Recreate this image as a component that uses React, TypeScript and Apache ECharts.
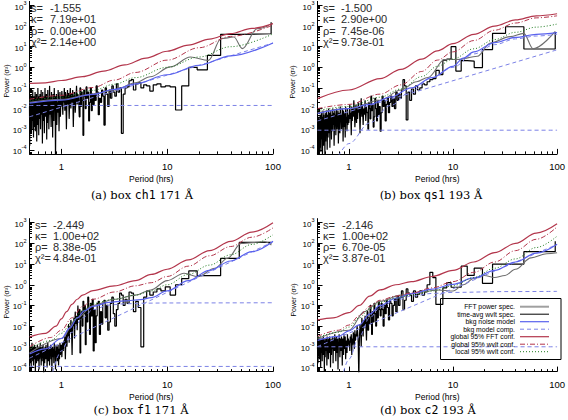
import React, { useEffect, useRef } from 'react';
import * as echarts from 'echarts';

const SANS = '"Liberation Sans", Arial, Helvetica, sans-serif';
const SERIF = '"DejaVu Serif", "Liberation Serif", serif';
const MONO = '"DejaVu Sans Mono", "Liberation Mono", monospace';

// axes (periods in hours, power as log10 of sigma^2)
const P_MIN = 0.5;
const P_MAX = 100;
const LOGPOW_MIN = -4.2;
const LOGPOW_MAX = 3.2;
const xTickPeriods = [1, 10, 100];
const xMinorPeriods = [0.6, 0.7, 0.8, 0.9, 2, 3, 4, 5, 6, 7, 8, 9, 20, 30, 40, 50, 60, 70, 80, 90];
const yTickExps = [-4, -3, -2, -1, 0, 1, 2, 3];
const yMinorMultipliers = [2, 3, 4, 5, 6, 7, 8, 9];
const FFT_BASE_PERIOD = 96; // FFT bin k has period 96/k hours

// ---------- FFT spectra: log10 power for k = 1,2,3,... ----------
const specA = [
  2.19, 1.63, 1.6, 0.58, -0.12, 0.0, -0.9, -2.07, -0.95, -0.9,
  -0.95, -0.8, -0.85, -1.15, -0.9, -0.85, -1.0, -0.75, -0.8, -1.1,
  -0.6, -0.65, -0.95, -1.0, -1.3, -3.2, -1.0, -1.2, -0.8, -1.4,
  -1.2, -0.9, -1.5, -1.1, -1.9, -1.3, -1.0, -2.8, -1.4, -1.1,
  -1.7, -1.5, -2.3, -1.2, -0.9, -1.6, -1.3, -1.8,
  -1.3, -2.1, -1.0, -1.7, -2.6, -1.2, -1.5, -0.95, -2.0, -1.4,
  -1.1, -3.3, -1.6, -1.2, -1.9, -1.0, -2.4, -1.5, -1.3, -1.8,
  -0.9, -1.6, -2.2, -1.2, -1.45, -2.9, -1.1, -1.7, -1.3, -2.0,
  -1.0, -1.5, -2.5, -1.25, -1.8, -1.1, -1.6, -3.0, -1.4, -1.2,
  -2.1, -1.0, -1.7, -1.35, -2.3, -1.5, -1.15, -1.9,
  -1.6, -2.4, -1.2, -1.9, -3.1, -1.5, -1.1, -2.2, -1.7, -2.8,
  -1.3, -1.9, -4.5, -1.4, -2.0, -1.0, -2.6, -1.8, -1.3, -3.4,
  -1.6, -2.1, -1.2, -2.9, -1.7, -1.4, -2.3, -0.9, -1.8, -3.0,
  -1.5, -2.2, -1.1, -2.7, -1.6, -3.5, -1.3, -2.0, -1.5, -2.4,
  -1.0, -1.9, -3.2, -1.4, -2.1, -1.7, -2.6, -1.2, -3.7, -1.8,
  -1.5, -2.3, -1.1, -2.0, -3.0, -1.6, -1.3, -2.5, -1.9, -1.4,
  -3.3, -1.7, -2.2, -1.0, -2.8, -1.5, -2.0, -3.6, -1.3, -1.8,
  -2.4, -1.6, -3.1, -1.2, -2.1, -1.7, -2.9, -1.4, -1.9, -3.4,
  -1.5, -2.2, -1.1, -2.6, -1.8, -3.0, -1.4, -2.3, -1.6, -3.2,
  -1.3, -2.0, -2.7, -1.5, -3.8, -1.9,
];
const specB = [
  1.73, 0.89, 1.97, 1.65, 0.86, -0.01, 0.3, 0.33, -0.18, 1.0,
  0.4, 0.35, -0.35, -0.15, -0.55, -0.6, -0.7, -0.85, -0.8, -1.0,
  -1.1, -0.9, -1.3, -1.05, -1.6, -1.2, -2.55, -0.9, -0.6, -1.1,
  -1.5, -1.3, -1.6, -1.2, -2.0, -1.5, -1.9, -1.4, -1.7, -2.2,
  -1.5, -1.8, -2.6, -1.6, -1.9, -1.4, -2.2, -3.1,
  -1.9, -2.3, -1.6, -2.6, -2.0, -1.5, -2.4, -2.9, -1.8, -2.1,
  -1.4, -2.5, -2.0, -1.7, -3.0, -2.2, -1.9, -2.6, -1.6, -2.3,
  -2.0, -2.8, -1.8, -2.4, -1.5, -2.1, -3.2, -1.9, -2.2, -1.7,
  -2.5, -2.0, -2.7, -1.8, -2.3, -2.9, -2.1, -1.6, -2.4, -2.0,
  -2.6, -1.9, -3.3, -2.2, -2.5, -1.8, -2.3, -2.7,
  -2.3, -2.8, -2.0, -3.1, -2.4, -2.7, -1.9, -3.4, -2.5, -2.2,
  -2.9, -2.1, -3.6, -2.4, -2.0, -2.7, -3.0, -2.3, -2.6, -1.9,
  -3.2, -2.5, -2.2, -2.8, -3.7, -2.1, -2.6, -2.4, -3.0, -2.0,
  -2.7, -3.3, -2.3, -2.5, -2.1, -2.9, -3.8, -2.4, -2.2, -2.8,
  -2.0, -3.1, -2.6, -2.3, -3.5, -2.5, -2.1, -2.9, -2.4, -3.9,
  -2.2, -2.7, -3.2, -2.0, -2.6, -3.4, -2.3, -2.9, -4.0, -2.5,
  -2.1, -3.0, -2.7, -3.6, -2.4, -2.2, -4.2, -2.8, -2.5, -3.3,
  -2.3, -3.8, -2.6, -2.1, -3.1, -4.3, -2.4, -2.9, -3.5, -2.2,
  -2.7, -4.1, -2.5, -3.2, -2.3, -3.9, -2.8, -4.3, -2.6, -3.4,
  -2.4, -4.2, -3.0, -2.5, -3.7, -4.3,
];
const specC = [
  2.0, 2.05, 1.28, 0.44, 0.44, 0.67, 0.3, 0.0, -0.5, -0.1,
  -0.3, -0.2, -0.35, -0.5, -0.3, -0.6, -3.0, -1.1, -0.8, -1.3,
  -0.4, -0.35, -0.9, -0.7, -1.0, -0.5, -0.4, -0.9, -1.2, -2.0,
  -1.4, -0.6, -0.9, -1.8, -2.2, -1.0, -1.6, -0.75, -0.9, -1.9,
  -1.3, -2.4, -0.8, -0.9, -1.5, -2.8, -1.2, -3.2,
  -0.7, -1.5, -0.9, -2.4, -1.1, -0.6, -1.8, -1.2, -2.9, -1.0,
  -1.4, -0.8, -2.0, -1.3, -1.6, -3.3, -1.2, -1.7, -1.0, -2.2,
  -1.5, -1.9, -1.3, -2.6, -1.6, -2.0, -1.8, -3.4, -2.1, -1.7,
  -2.3, -2.0, -2.8, -1.9, -2.5, -2.2, -3.0, -2.4, -2.6, -3.6,
  -2.5, -2.9, -2.7, -3.2, -2.8, -3.0, -3.5, -2.9,
  -3.0, -3.4, -2.8, -3.6, -3.1, -3.9, -2.9, -3.3, -3.7, -3.0,
  -3.5, -2.9, -4.1, -3.2, -3.4, -2.8, -3.8, -3.1, -3.5, -3.0,
  -3.3, -4.2, -3.0, -3.6, -2.9, -3.4, -3.1, -3.9, -3.2, -3.0,
  -3.7, -3.3, -2.8, -3.5, -4.0, -3.1, -3.4, -2.9, -3.6, -3.2,
  -3.0, -3.8, -3.3, -3.1, -4.3, -3.4, -2.9, -3.5, -3.2, -3.7,
  -3.0, -3.3, -3.9, -3.1, -3.5, -2.8, -3.4, -3.6, -3.0, -4.1,
  -3.2, -3.4, -3.0, -3.7, -3.3, -2.9, -3.5, -3.1, -3.8, -3.2,
  -3.4, -3.0, -4.2, -3.3, -3.6, -3.1, -2.9, -3.5, -3.2, -3.9,
  -3.0, -3.4, -3.7, -3.1, -3.3, -2.8, -3.6, -3.2, -4.0, -3.4,
  -3.1, -3.5, -3.0, -3.8, -3.3, -3.4,
];
const specD = [
  2.1, 1.6, 1.0, 1.0, 0.07, 0.8, 0.45, 0.9, -0.12, -0.12,
  0.1, -0.15, -0.95, -0.95, 0.35, 0.6, 0.0, -0.35, -0.5, -0.3,
  -0.45, -0.6, -0.3, -0.8, -0.5, -0.4, -0.2, -0.75, -1.2, -0.3,
  -0.6, -1.0, -0.55, -1.3, -0.7, -1.0, -1.5, -0.9, -0.8, -1.7,
  -1.1, -0.75, -1.4, -1.0, -2.0, -1.2, -0.9, -1.5,
  -1.2, -0.8, -1.6, -1.1, -2.0, -1.4, -0.9, -1.8, -1.3, -2.4,
  -1.5, -1.0, -1.9, -1.6, -2.2, -1.3, -2.7, -1.8, -1.5, -2.1,
  -1.7, -2.5, -2.0, -1.6, -3.0, -2.2, -1.9, -2.6, -4.6, -2.8,
  -2.3, -2.0, -2.5, -2.4, -2.7, -2.2, -3.1, -2.5, -2.3, -2.9,
  -2.6, -3.4, -2.4, -2.8, -2.5, -3.2, -2.7, -2.9,
  -2.6, -3.0, -2.4, -3.3, -2.7, -2.9, -3.6, -2.5, -2.8, -3.1,
  -2.4, -3.4, -2.7, -2.6, -3.9, -2.8, -2.5, -3.2, -2.9, -2.6,
  -3.5, -2.7, -2.4, -3.0, -2.8, -4.1, -2.6, -2.9, -3.3, -2.5,
  -2.8, -3.7, -2.6, -2.9, -2.4, -3.2, -2.7, -3.0, -2.6, -3.8,
  -2.5, -2.9, -3.1, -2.7, -3.4, -2.6, -2.8, -4.0, -2.7, -3.0,
  -2.5, -3.3, -2.8, -2.6, -3.6, -2.9, -2.7, -3.1, -2.5, -3.9,
  -2.8, -2.6, -3.2, -2.9, -2.7, -3.5, -2.6, -3.0, -4.2, -2.8,
  -2.7, -3.1, -2.5, -3.4, -2.9, -2.6, -3.7, -2.8, -3.0, -2.6,
  -3.3, -2.7, -4.0, -2.9, -2.6, -3.2, -2.8, -3.6, -2.7, -3.0,
  -2.5, -3.4, -2.9, -3.8, -2.7, -3.1,
];

// ---------- curves: [log10 period (hr), log10 power] ----------
const grayA = [[-0.3, -1.7], [0, -1.55], [0.3, -1.3], [0.5, -1.1], [0.7, -0.75], [0.84, -0.46], [1.03, 0.02], [1.22, 0.5], [1.39, 0.34], [1.51, 1.39], [1.63, 1.47], [1.71, 0.91], [1.85, 1.87], [1.96, 2.03]];
const blueA = [[-0.3, -1.74], [0, -1.59], [0.3, -1.31], [0.5, -1.07], [0.7, -0.8], [1, -0.36], [1.3, 0.1], [1.6, 0.56], [2, 1.18]];
const whiteA = [[-0.301, -1.85], [2, -1.85]];
const powA = [[-0.301, -2.4], [2, 1.18]];
const greenA = [[-0.3, -1.62], [0, -1.45], [0.3, -1.12], [0.5, -0.82], [0.7, -0.5], [1, 0.0], [1.3, 0.5], [1.6, 1.0], [2, 1.62]];
const redDashA = [[-0.3, -1.55], [0, -1.36], [0.3, -0.98], [0.5, -0.62], [0.7, -0.25], [1, 0.35], [1.3, 0.95], [1.6, 1.5], [2, 2.05]];
const redA = [[-0.3, -0.78], [-0.15, -0.75], [0, -0.64], [0.2, -0.45], [0.4, -0.18], [0.6, 0.12], [0.8, 0.45], [1, 0.78], [1.2, 1.08], [1.4, 1.37], [1.6, 1.64], [1.8, 1.89], [2, 2.12]];

const grayB = [[-0.3, -2.2], [0, -2.0], [0.3, -1.6], [0.5, -1.1], [0.65, -0.7], [0.76, -0.49], [0.92, 0.38], [1.045, 0.38], [1.235, 0.54], [1.36, 1.18], [1.55, 1.49], [1.68, 1.65], [1.77, 0.9], [1.98, 1.73]];
const blueB = [[-0.3, -2.24], [0, -2.0], [0.2, -1.8], [0.4, -1.45], [0.6, -1.0], [0.8, -0.5], [1, 0.05], [1.1, 0.45], [1.2, 0.75], [1.4, 1.2], [1.6, 1.45], [1.8, 1.6], [2, 1.68]];
const whiteB = [[-0.301, -3.05], [2, -3.05]];
const powB = [[-0.301, -2.6], [2, 0.85]];
const kappaB = [[-0.1, -4.3], [0, -3.7], [0.2, -2.7], [0.4, -1.85], [0.6, -1.15], [0.8, -0.5], [1, 0.0], [1.2, 0.65], [1.4, 1.1], [1.6, 1.38], [1.8, 1.52], [2, 1.6]];
const greenB = [[-0.3, -2.1], [0, -1.9], [0.3, -1.45], [0.5, -1.05], [0.7, -0.45], [0.85, 0.05], [1, 0.4], [1.2, 0.9], [1.4, 1.35], [1.6, 1.7], [1.8, 1.95], [2, 2.1]];
const redDashB = [[-0.3, -2.0], [0, -1.8], [0.3, -1.3], [0.5, -0.85], [0.7, -0.2], [0.85, 0.35], [1, 0.75], [1.2, 1.3], [1.4, 1.8], [1.6, 2.15], [1.8, 2.4], [2, 2.5]];
const redB = [[-0.3, -1.52], [0, -1.1], [0.3, -0.55], [0.5, -0.1], [0.7, 0.4], [0.85, 0.8], [1, 1.15], [1.2, 1.6], [1.4, 2.0], [1.6, 2.3], [1.8, 2.5], [2, 2.6]];

const grayC = [[-0.3, -3.3], [0, -2.6], [0.15, -1.6], [0.3, -1.0], [0.5, -0.7], [0.7, -0.5], [0.845, -0.25], [1.0, 0.2], [1.16, 0.56], [1.29, 0.39], [1.45, 0.8], [1.57, 1.28], [1.7, 2.0], [1.92, 2.08], [1.985, 1.92]];
const blueC = [[-0.3, -3.35], [-0.15, -3.1], [0, -2.6], [0.08, -2.1], [0.15, -1.6], [0.22, -1.25], [0.3, -1.05], [0.45, -0.85], [0.6, -0.78], [0.75, -0.72], [0.85, -0.62], [1, -0.3], [1.2, 0.2], [1.4, 0.7], [1.6, 1.15], [1.8, 1.6], [2, 2.1]];
const whiteC = [[-0.301, -3.95], [2, -3.95]];
const powC = [[-0.301, -3.55], [2, 2.08]];
const kappaC = [[-0.08, -4.2], [0, -3.2], [0.1, -2.3], [0.2, -1.6], [0.3, -1.2], [0.45, -0.98], [0.6, -0.92], [0.8, -0.89], [1, -0.88], [2, -0.87]];
const greenC = [[-0.3, -3.1], [-0.1, -2.7], [0, -2.35], [0.1, -1.8], [0.2, -1.25], [0.3, -0.9], [0.5, -0.7], [0.7, -0.5], [0.85, -0.3], [1, 0.0], [1.2, 0.5], [1.4, 0.95], [1.6, 1.45], [1.8, 1.95], [2, 2.42]];
const redDashC = [[-0.3, -3.0], [-0.1, -2.55], [0, -2.2], [0.1, -1.6], [0.2, -1.05], [0.3, -0.7], [0.5, -0.35], [0.7, -0.05], [0.85, 0.1], [1, 0.4], [1.2, 0.9], [1.4, 1.4], [1.6, 1.85], [1.8, 2.3], [2, 2.75]];
const redC = [[-0.3, -2.52], [-0.15, -2.35], [-0.05, -2.0], [0, -1.65], [0.05, -1.3], [0.1, -0.95], [0.15, -0.7], [0.2, -0.5], [0.3, -0.28], [0.5, -0.05], [0.7, 0.2], [0.85, 0.5], [1, 0.75], [1.2, 1.2], [1.4, 1.65], [1.6, 2.1], [1.8, 2.55], [2, 3.0]];

const grayD = [[-0.3, -2.6], [0, -2.2], [0.15, -1.3], [0.3, -0.8], [0.5, -0.5], [0.7, -0.35], [0.85, -0.25], [1.0, -0.3], [1.1, 0.0], [1.2, 0.3], [1.3, 0.45], [1.4, 0.35], [1.5, 0.45], [1.6, 0.75], [1.75, 1.3], [1.9, 1.5], [2, 1.55]];
const blueD = [[-0.3, -2.69], [-0.1, -2.5], [0, -2.23], [0.1, -1.94], [0.2, -1.42], [0.3, -1.0], [0.45, -0.66], [0.6, -0.43], [0.8, -0.21], [1, 0.02], [1.2, 0.33], [1.4, 0.7], [1.6, 1.1], [1.8, 1.53], [2, 1.96]];
const whiteD = [[-0.301, -3.0], [2, -3.0]];
const powD = [[-0.301, -2.99], [2, 1.95]];
const kappaD = [[-0.05, -4.2], [0, -3.6], [0.1, -2.5], [0.2, -1.6], [0.3, -1.1], [0.45, -0.75], [0.6, -0.55], [0.8, -0.42], [1, -0.37], [1.5, -0.33], [2, -0.32]];
const greenD = [[-0.3, -2.55], [-0.1, -2.3], [0, -2.05], [0.1, -1.6], [0.2, -1.15], [0.3, -0.85], [0.45, -0.65], [0.6, -0.5], [0.8, -0.3], [1, -0.05], [1.2, 0.35], [1.4, 0.8], [1.6, 1.25], [1.8, 1.8], [2, 2.35]];
const redDashD = [[-0.3, -2.5], [-0.1, -2.2], [0, -1.95], [0.1, -1.5], [0.2, -1.05], [0.3, -0.75], [0.45, -0.55], [0.6, -0.4], [0.8, -0.15], [1, 0.15], [1.2, 0.6], [1.4, 1.1], [1.6, 1.65], [1.8, 2.2], [2, 2.8]];
const redD = [[-0.3, -1.7], [-0.15, -1.6], [0, -1.35], [0.1, -1.0], [0.2, -0.55], [0.3, -0.25], [0.45, 0.0], [0.6, 0.15], [0.8, 0.4], [1, 0.7], [1.2, 1.1], [1.4, 1.55], [1.6, 2.0], [1.8, 2.5], [2, 2.95]];

// ---------- texts ----------
const annLabels = ['s=', 'κ=', 'ρ=', 'χ²='];
const annA = ['-1.555', '7.19e+01', '0.00e+00', '2.14e+00'];
const annB = ['-1.500', '2.90e+00', '7.45e-06', '9.73e-01'];
const annC = ['-2.449', '1.00e+02', '8.38e-05', '4.84e-01'];
const annD = ['-2.146', '1.00e+02', '6.70e-05', '3.87e-01'];
const captionA = ['(a)', 'ch1', '171'];
const captionB = ['(b)', 'qs1', '193'];
const captionC = ['(c)', 'f1', '171'];
const captionD = ['(d)', 'c2', '193'];
const legendLabels = ['FFT power spec.', 'time-avg wvlt spec.', 'bkg noise model', 'bkg model comp.', 'global 95% FFT conf.', 'global 95% wvlt conf.', 'local 95% wvlt conf.'];

const RED = '#b3364c';
const BLUE = '#5a62ee';
const BLUE_DASH = '#7c82e6';
const GREEN = '#1d7a1d';
const GRAY = '#6e6e6e';

const legendStyles = [
  { stroke: '#a0a0a0', lineWidth: 2 },
  { stroke: '#000', lineWidth: 1 },
  { stroke: BLUE, lineWidth: 1.2 },
  { stroke: BLUE_DASH, lineWidth: 1, lineDash: [4, 3] },
  { stroke: RED, lineWidth: 1.2 },
  { stroke: RED, lineWidth: 1, lineDash: [5, 2, 1, 2] },
  { stroke: GREEN, lineWidth: 1, lineDash: [1, 2] },
];

const panels = [
  { left: 29.5, top: 0.9, spec: specA, gray: grayA, blue: blueA, comps: [whiteA, powA], green: greenA, redDash: redDashA, red: redA, ann: annA, annX: [31, 50], annY: 8.3, cap: captionA, capX: 142, capY: 195, titleX: 6, titleY: 81 },
  { left: 317.5, top: 0.9, spec: specB, gray: grayB, blue: blueB, comps: [whiteB, powB, kappaB], green: greenB, redDash: redDashB, red: redB, ann: annB, annX: [323, 341], annY: 8.3, cap: captionB, capX: 431, capY: 195, titleX: 292, titleY: 82 },
  { left: 29.5, top: 218.6, spec: specC, gray: grayC, blue: blueC, comps: [whiteC, powC, kappaC], green: greenC, redDash: redDashC, red: redC, ann: annC, annX: [35, 53], annY: 225, cap: captionC, capX: 141, capY: 410, titleX: 6, titleY: 302 },
  { left: 317.5, top: 218.6, spec: specD, gray: grayD, blue: blueD, comps: [whiteD, powD, kappaD], green: greenD, redDash: redDashD, red: redD, ann: annD, annX: [323, 342], annY: 225, cap: captionD, capX: 428, capY: 410, titleX: 293, titleY: 300 },
];

const GRID_W = 243.5;
const GRID_H = 153;

function buildOption() {
  const lg = Math.log10;
  const xMin = lg(P_MIN);
  const xMax = lg(P_MAX);
  const xMajor = xTickPeriods.map(lg);
  const xMinor = xMinorPeriods.map(lg);
  const yMinor: number[] = [];
  for (let e = -5; e <= 3; e++) {
    yMinorMultipliers.forEach((m) => {
      const v = e + lg(m);
      if (v > LOGPOW_MIN && v < LOGPOW_MAX) yMinor.push(v);
    });
  }

  const grid: any[] = [];
  const xAxis: any[] = [];
  const yAxis: any[] = [];
  const series: any[] = [];
  const graphic: any[] = [];

  panels.forEach((p, i) => {
    grid.push({ left: p.left, top: p.top, width: GRID_W, height: GRID_H, containLabel: false });
    xAxis.push({
      gridIndex: i, type: 'value', position: 'bottom', min: xMin, max: xMax,
      axisLine: { onZero: false, lineStyle: { color: '#000', width: 1 } },
      axisTick: { inside: true, length: 5, customValues: xMajor, lineStyle: { color: '#000' } },
      axisLabel: { customValues: xMajor, formatter: (v: number) => String(Math.round(Math.pow(10, v))), fontSize: 9.5, color: '#000', fontFamily: SANS, margin: 8 },
      splitLine: { show: false },
      name: 'Period (hrs)', nameLocation: 'middle', nameGap: 21,
      nameTextStyle: { fontSize: 8.5, color: '#000', fontFamily: SANS },
    });
    xAxis.push({
      gridIndex: i, type: 'value', position: 'bottom', min: xMin, max: xMax,
      axisLine: { show: false, onZero: false },
      axisTick: { inside: true, length: 2.5, customValues: xMinor, lineStyle: { color: '#000' } },
      axisLabel: { show: false }, splitLine: { show: false },
    });
    yAxis.push({
      gridIndex: i, type: 'value', position: 'left', min: LOGPOW_MIN, max: LOGPOW_MAX,
      axisLine: { onZero: false, lineStyle: { color: '#000', width: 1 } },
      axisTick: { inside: true, length: 5, customValues: yTickExps, lineStyle: { color: '#000' } },
      axisLabel: {
        customValues: yTickExps, margin: 3, color: '#000', fontFamily: SANS,
        formatter: (v: number) => `{b|10}{s|${Math.round(v)}}`,
        rich: {
          b: { fontSize: 8, fontFamily: SANS, color: '#000', lineHeight: 11, verticalAlign: 'bottom' },
          s: { fontSize: 5.5, fontFamily: SANS, color: '#000', lineHeight: 6, verticalAlign: 'top' },
        },
      },
      splitLine: { show: false },
    });
    yAxis.push({
      gridIndex: i, type: 'value', position: 'left', min: LOGPOW_MIN, max: LOGPOW_MAX,
      axisLine: { show: false, onZero: false },
      axisTick: { inside: true, length: 2.5, customValues: yMinor, lineStyle: { color: '#000' } },
      axisLabel: { show: false }, splitLine: { show: false },
    });
    const xi = 2 * i;
    const yi = 2 * i;
    const specData = p.spec.map((v, k) => [lg(FFT_BASE_PERIOD / (k + 1)), v]).reverse();
    const base = { type: 'line', xAxisIndex: xi, yAxisIndex: yi, symbol: 'none', silent: true, clip: true };
    series.push({ ...base, name: 'FFT power spec.', data: specData, step: 'end', lineStyle: { color: '#000', width: 1.2 }, z: 2 });
    series.push({ ...base, name: 'time-avg wvlt spec.', data: p.gray, smooth: 0.35, smoothMonotone: 'x', lineStyle: { color: GRAY, width: 1.1 }, z: 3 });
    p.comps.forEach((c) => {
      series.push({ ...base, name: 'bkg model comp.', data: c, smooth: 0.35, smoothMonotone: 'x', lineStyle: { color: BLUE_DASH, width: 1, type: [4, 3] }, z: 3 });
    });
    series.push({ ...base, name: 'bkg noise model', data: p.blue, smooth: 0.35, smoothMonotone: 'x', lineStyle: { color: BLUE, width: 1.2 }, z: 4 });
    series.push({ ...base, name: 'local 95% wvlt conf.', data: p.green, smooth: 0.35, smoothMonotone: 'x', lineStyle: { color: GREEN, width: 1, type: [1, 2] }, z: 4 });
    series.push({ ...base, name: 'global 95% wvlt conf.', data: p.redDash, smooth: 0.35, smoothMonotone: 'x', lineStyle: { color: RED, width: 1, type: [5, 2, 1, 2] }, z: 4 });
    series.push({ ...base, name: 'global 95% FFT conf.', data: p.red, smooth: 0.35, smoothMonotone: 'x', lineStyle: { color: RED, width: 1.2 }, z: 4 });

    // annotation block
    p.ann.forEach((val, r) => {
      const y = p.annY + r * 11.1;
      graphic.push({ type: 'text', x: p.annX[0], y, style: { text: annLabels[r], fontSize: 11, fontFamily: SANS, fill: '#2a2a2a', verticalAlign: 'middle' }, z: 10 });
      graphic.push({ type: 'text', x: p.annX[1], y, style: { text: val, fontSize: 11, fontFamily: SANS, fill: '#2a2a2a', verticalAlign: 'middle' }, z: 10 });
    });
    // y title
    graphic.push({ type: 'text', x: p.titleX, y: p.titleY, rotation: Math.PI / 2, style: { text: 'Power (σ²)', fontSize: 7, fontFamily: SANS, fill: '#000', align: 'center', verticalAlign: 'middle' } });
    // caption
    graphic.push({
      type: 'text', x: p.capX, y: p.capY,
      style: {
        text: `${p.cap[0]} box {t|${p.cap[1]}} ${p.cap[2]} Å`, fontSize: 11.5, fontFamily: SERIF, fill: '#000', align: 'center', verticalAlign: 'middle',
        rich: { t: { fontSize: 11.5, fontFamily: MONO, fill: '#000' } },
      },
    });
  });

  // legend box in panel (d)
  const lx = 440.5, ly = 298.5, lw = 120.5, lh = 61;
  graphic.push({ type: 'rect', shape: { x: lx, y: ly, width: lw, height: lh }, style: { fill: 'none', stroke: '#000', lineWidth: 1 }, z: 20 });
  legendLabels.forEach((t, r) => {
    const y = 306.7 + r * 7.5;
    graphic.push({ type: 'text', x: 515, y, style: { text: t, fontSize: 6.8, fontFamily: SANS, fill: '#000', align: 'right', verticalAlign: 'middle' }, z: 20 });
    graphic.push({ type: 'line', shape: { x1: 520, y1: y, x2: 549, y2: y }, style: { ...legendStyles[r] }, z: 20 });
  });

  return { animation: false, backgroundColor: '#fff', grid, xAxis, yAxis, series, graphic };
}

export default function App() {
  const ref = useRef<HTMLDivElement>(null);
  useEffect(() => {
    if (!ref.current) return;
    const chart = echarts.init(ref.current, undefined, { renderer: 'svg' });
    chart.setOption(buildOption());
    return () => chart.dispose();
  }, []);
  return <div ref={ref} style={{ position: 'fixed', left: 0, top: 0, width: 568, height: 420, background: '#fff' }} />;
}
